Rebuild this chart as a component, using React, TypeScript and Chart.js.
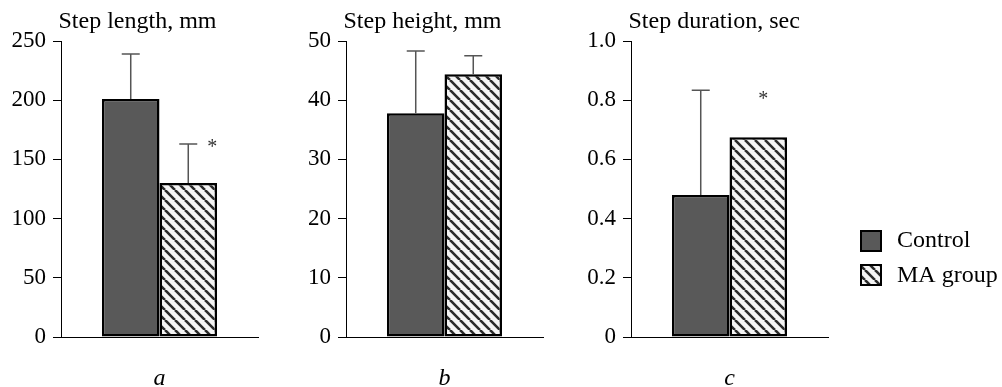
import React, { useEffect, useRef } from "react";
import { Chart, registerables } from "chart.js";

Chart.register(...registerables);

// ---------- data ----------
const seriesNames = ["Control", "MA group"];
const panelLetters = ["a", "b", "c"];
const panelTitles = ["Step length, mm", "Step height, mm", "Step duration, sec"];

const lengthMeans = [201, 130];
const lengthErrors: (number | null)[] = [38, 33];
const lengthStarAt: (number | null)[] = [null, 163];
const lengthTicks = ["0", "50", "100", "150", "200", "250"];

const heightMeans = [37.8, 44.4];
const heightErrors: (number | null)[] = [10.5, 3.1];
const heightStarAt: (number | null)[] = [null, null];
const heightTicks = ["0", "10", "20", "30", "40", "50"];

const durationMeans = [0.48, 0.675];
const durationErrors: (number | null)[] = [0.354, null];
const durationStarAt: (number | null)[] = [null, 0.815];
const durationTicks = ["0", "0.2", "0.4", "0.6", "0.8", "1.0"];

// ---------- style ----------
const FONT = '"Liberation Serif", "Times New Roman", serif';
const CONTROL_FILL = "#595959";

type Panel = {
  means: number[];
  errors: (number | null)[];
  stars: (number | null)[];
  ticks: string[];
  title: string;
  letter: string;
  left: number;
  width: number;
  rightPad: number;
  starDx: number;
  legend: boolean;
};

const panels: Panel[] = [
  { means: lengthMeans, errors: lengthErrors, stars: lengthStarAt, ticks: lengthTicks, title: panelTitles[0], letter: panelLetters[0], left: 5, width: 285, rightPad: 32, starDx: 24, legend: false },
  { means: heightMeans, errors: heightErrors, stars: heightStarAt, ticks: heightTicks, title: panelTitles[1], letter: panelLetters[1], left: 290, width: 285, rightPad: 32, starDx: 0, legend: false },
  { means: durationMeans, errors: durationErrors, stars: durationStarAt, ticks: durationTicks, title: panelTitles[2], letter: panelLetters[2], left: 575, width: 427, rightPad: 174, starDx: 5, legend: true },
];

function makeHatch(): CanvasPattern | string {
  const s = 10;
  const c = document.createElement("canvas");
  c.width = s;
  c.height = s;
  const g = c.getContext("2d");
  if (!g) return "#eee";
  g.fillStyle = "#f4f4f4";
  g.fillRect(0, 0, s, s);
  g.strokeStyle = "#2a2a2a";
  g.lineWidth = 2.6;
  g.beginPath();
  for (let k = -1; k <= 1; k++) {
    g.moveTo(k * s, 0);
    g.lineTo(k * s + s, s);
  }
  g.stroke();
  const p = g.createPattern(c, "repeat");
  return p || "#eee";
}

const annotate = {
  id: "annotate",
  afterDatasetsDraw(chart: any, _args: any, opts: any) {
    const ctx: CanvasRenderingContext2D = chart.ctx;
    const y = chart.scales.y;
    const area = chart.chartArea;
    const panel: Panel = opts.panel;
    ctx.save();
    // error bars (upper only)
    panel.errors.forEach((err, i) => {
      if (err == null) return;
      const bar = chart.getDatasetMeta(i).data[0];
      const top = y.getPixelForValue(panel.means[i] + err);
      ctx.strokeStyle = "#555";
      ctx.lineWidth = 1.5;
      ctx.beginPath();
      ctx.moveTo(bar.x, bar.y);
      ctx.lineTo(bar.x, top);
      ctx.moveTo(bar.x - 9, top);
      ctx.lineTo(bar.x + 9, top);
      ctx.stroke();
    });
    // significance stars
    panel.stars.forEach((v, i) => {
      if (v == null) return;
      const bar = chart.getDatasetMeta(i).data[0];
      const py = y.getPixelForValue(v);
      ctx.fillStyle = "#333";
      ctx.font = `20px ${FONT}`;
      ctx.textAlign = "center";
      ctx.textBaseline = "alphabetic";
      ctx.fillText("*", bar.x + panel.starDx, py + 9);
    });
    // panel title
    ctx.fillStyle = "#000";
    ctx.font = `24px ${FONT}`;
    ctx.textAlign = "left";
    ctx.textBaseline = "alphabetic";
    ctx.fillText(panel.title, area.left - 2.5, 28);
    // panel letter
    ctx.font = `italic 24px ${FONT}`;
    ctx.textAlign = "center";
    ctx.fillText(panel.letter, (area.left + area.right) / 2, 385);
    // legend
    if (panel.legend) {
      const fills = opts.fills;
      const bx = area.right + 32;
      const rows = [230, 264];
      const baselines = [247, 281.5];
      seriesNames.forEach((name, i) => {
        ctx.fillStyle = fills[i];
        ctx.fillRect(bx, rows[i], 22, 22);
        ctx.strokeStyle = "#000";
        ctx.lineWidth = 2;
        ctx.strokeRect(bx + 1, rows[i] + 1, 20, 20);
        ctx.fillStyle = "#000";
        ctx.font = `24px ${FONT}`;
        ctx.textAlign = "left";
        ctx.fillText(name, bx + 37, baselines[i]);
      });
    }
    ctx.restore();
  },
};

function PanelChart({ panel }: { panel: Panel }) {
  const ref = useRef<HTMLCanvasElement | null>(null);
  useEffect(() => {
    if (!ref.current) return;
    const hatch = makeHatch();
    const fills = [CONTROL_FILL, hatch];
    const max = Number(panel.ticks[panel.ticks.length - 1]);
    const step = Number(panel.ticks[1]);
    const chart = new Chart(ref.current, {
      type: "bar",
      data: {
        labels: [""],
        datasets: seriesNames.map((name, i) => ({
          label: name,
          data: [panel.means[i]],
          backgroundColor: fills[i] as any,
          borderColor: "#000",
          borderWidth: 2.5,
          borderSkipped: false,
          barPercentage: 1,
          categoryPercentage: 0.584,
        })),
      },
      options: {
        responsive: false,
        animation: false,
        layout: { padding: { left: 0, right: panel.rightPad, top: 41, bottom: 0 } },
        plugins: {
          legend: { display: false },
          tooltip: { enabled: false },
          title: { display: false },
          annotate: { panel, fills },
        } as any,
        scales: {
          x: {
            type: "category",
            grid: { display: false },
            ticks: { display: false },
            border: { display: true, color: "#000", width: 1 },
            afterFit: (s: any) => {
              s.height = 50;
            },
          },
          y: {
            min: 0,
            max,
            ticks: {
              stepSize: step,
              color: "#000",
              font: { family: FONT, size: 23 },
              padding: 7,
              callback: (_v: any, i: number) => panel.ticks[i],
            },
            grid: {
              display: true,
              drawOnChartArea: false,
              drawTicks: true,
              tickLength: 8,
              color: "#000",
              lineWidth: 1,
            },
            border: { display: true, color: "#000", width: 1 },
            afterFit: (s: any) => {
              s.width = 56;
            },
          },
        },
      },
      plugins: [annotate],
    });
    return () => chart.destroy();
  }, [panel]);
  return (
    <canvas
      ref={ref}
      width={panel.width}
      height={387}
      style={{ position: "absolute", left: panel.left, top: 0, width: panel.width, height: 387 }}
    />
  );
}

export default function App() {
  return (
    <div style={{ position: "fixed", left: 0, top: 0, width: 1002, height: 387, background: "#fff", overflow: "hidden" }}>
      {panels.map((p) => (
        <PanelChart key={p.letter} panel={p} />
      ))}
    </div>
  );
}
